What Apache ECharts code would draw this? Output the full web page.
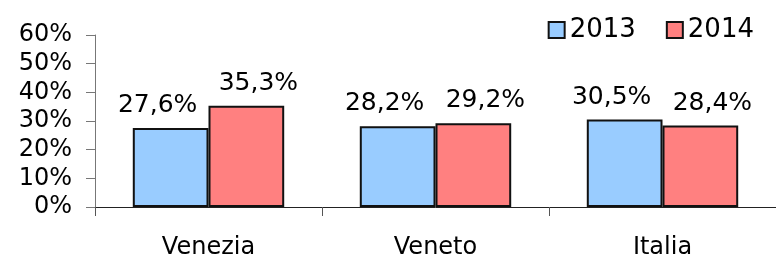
<!DOCTYPE html>
<html>
<head>
<meta charset="utf-8">
<script src="https://cdn.jsdelivr.net/npm/echarts@6/dist/echarts.min.js"></script>
<style>
  html, body { margin: 0; padding: 0; background: #fff; }
  #chart { width: 776px; height: 260px; }
</style>
</head>
<body>
<div id="chart"></div>
<script>
// dati
const categories = ['Venezia', 'Veneto', 'Italia'];
const values2013 = [27.6, 28.2, 30.5];
const values2014 = [35.3, 29.2, 28.4];
const seriesNames = ['2013', '2014'];

const FONT = 'DejaVu Sans';

const chart = echarts.init(document.getElementById('chart'));

const fmtLabel = p => p.value.toFixed(1).replace('.', ',') + '%';

// le etichette si allontanano un po' dal centro del gruppo, come nell'originale
const makeSeries = (name, data, color, shiftX) => ({
  name: name,
  type: 'bar',
  data: data,
  barGap: '0%',
  barCategoryGap: '33.3%',
  itemStyle: {
    color: color,
    borderColor: '#111',
    borderWidth: 2
  },
  label: {
    show: true,
    position: 'top',
    distance: 10,
    offset: [shiftX, 0],
    formatter: fmtLabel,
    color: '#000',
    fontFamily: FONT,
    fontSize: 25
  }
});

chart.setOption({
  animation: false,
  textStyle: { fontFamily: FONT },
  legend: {
    right: 17,
    top: 12,
    itemWidth: 16,
    itemHeight: 16,
    itemGap: 30,
    icon: 'rect',
    textStyle: { fontFamily: FONT, fontSize: 26, color: '#000' },
    data: seriesNames
  },
  grid: {
    left: 95,
    top: 35,
    width: 684,
    height: 173
  },
  xAxis: {
    type: 'category',
    data: categories,
    axisLine: { lineStyle: { color: '#222', width: 1 } },
    axisTick: { show: true, length: 9, lineStyle: { color: '#555' } },
    axisLabel: { color: '#000', fontFamily: FONT, fontSize: 24, margin: 29 }
  },
  yAxis: {
    type: 'value',
    min: 0,
    max: 60,
    interval: 10,
    axisLine: { show: true, lineStyle: { color: '#777' } },
    axisTick: { show: true, length: 9, lineStyle: { color: '#777' } },
    splitLine: { show: false },
    axisLabel: {
      color: '#000',
      fontFamily: FONT,
      fontSize: 24,
      margin: 23,
      formatter: '{value}%'
    }
  },
  series: [
    makeSeries(seriesNames[0], values2013, '#99ccff', -13),
    makeSeries(seriesNames[1], values2014, '#ff8080', 12)
  ]
});
</script>
</body>
</html>
